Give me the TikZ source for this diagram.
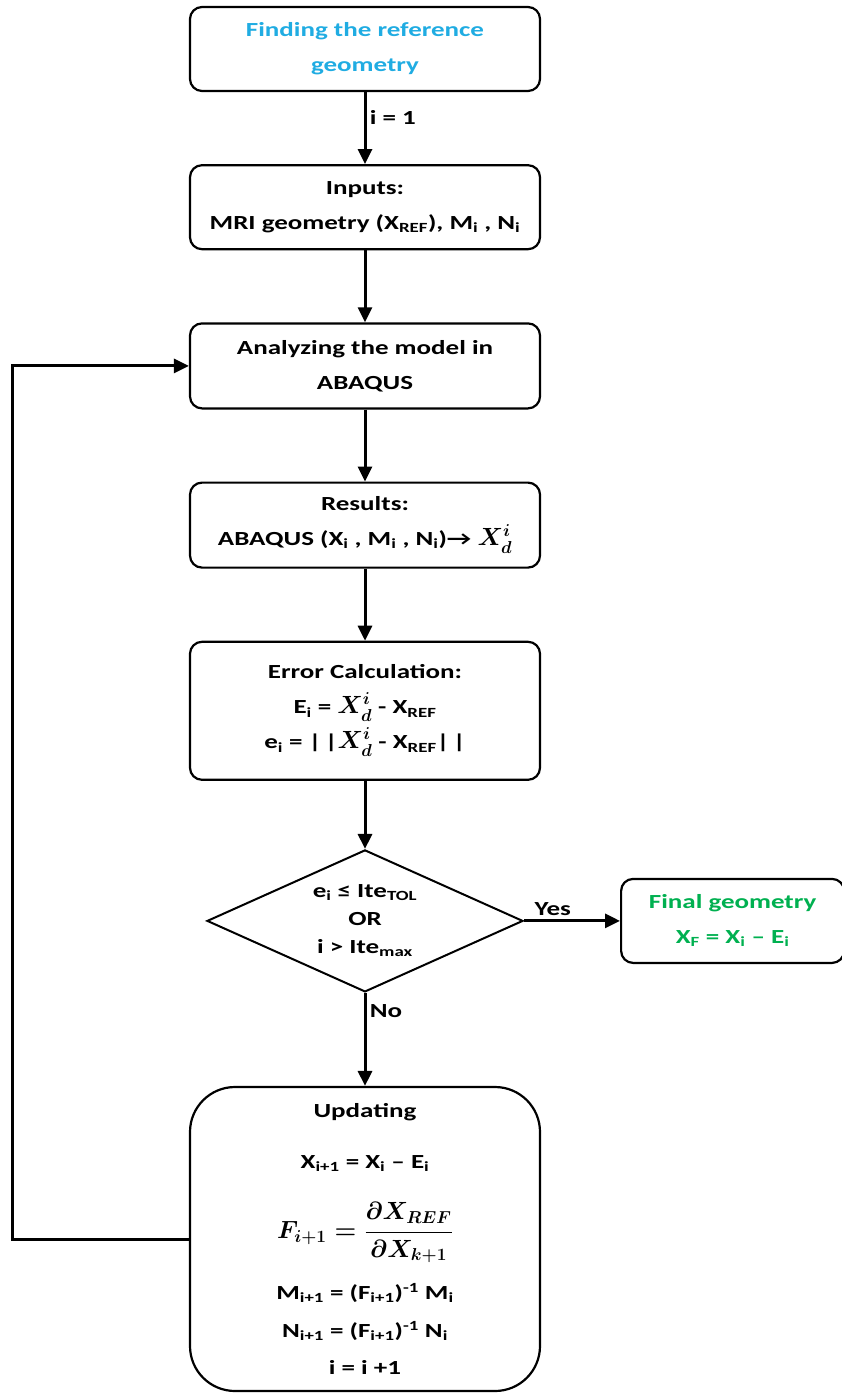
\documentclass[tikz,border=0pt]{standalone}
\usepackage{fontspec}
\setmainfont{Carlito}[FakeStretch=1.35]
\usepackage{amsmath}
\usetikzlibrary{shapes,arrows.meta,positioning}
\definecolor{titleblue}{RGB}{32,172,226}
\definecolor{okgreen}{RGB}{0,176,80}
\newcommand{\Xdi}{{\fontsize{25}{35}\selectfont\boldmath$X^{i}_{d}$}}
\begin{document}
\begin{tikzpicture}[x=1pt,y=1pt,node distance=72pt,
every node/.style={font=\fontsize{20}{35}\selectfont\bfseries},
box/.style={draw, rounded corners=12pt, line width=2.2pt, align=center, minimum width=350pt, minimum height=84pt, inner sep=0pt},
decision/.style={draw, diamond, aspect=2.2, line width=2pt, align=center, minimum width=316pt, minimum height=142pt, inner sep=0pt, font=\fontsize{20}{28}\selectfont\bfseries},
link/.style={line width=3pt, -{Triangle[length=15pt,width=14pt]}}]
\useasboundingbox (0,0) rectangle (842,-1394);
\node[box, text=titleblue] (find) at (365,-49) {Finding the reference\\geometry};
\node[box, below=of find] (inputs) {Inputs:\\MRI geometry (X\textsubscript{REF}), M\textsubscript{i} , N\textsubscript{i}};
\node[box, minimum height=85pt, below=of inputs] (analyze) {Analyzing the model in\\ABAQUS};
\node[box, minimum height=85pt, below=of analyze] (results) {Results:\\ABAQUS (X\textsubscript{i} , M\textsubscript{i} , N\textsubscript{i})→ \Xdi};
\node[box, minimum height=138pt, below=of results] (error) {Error Calculation:\\E\textsubscript{i} = \Xdi{} - X\textsubscript{REF}\\e\textsubscript{i} = |\,|\Xdi{} - X\textsubscript{REF}|\,|};
\node[decision, below=68pt of error] (check) {e\textsubscript{i} ≤ Ite\textsubscript{TOL}\\OR\\i > Ite\textsubscript{max}};
\node[box, minimum width=223pt, text=okgreen, right=96pt of check] (final) {Final geometry\\X\textsubscript{F} = X\textsubscript{i} -- E\textsubscript{i}};
\node[box, rounded corners=45pt, minimum height=304pt, below=93pt of check] (update) {Updating\\[16pt]
X\textsubscript{i+1} = X\textsubscript{i} -- E\textsubscript{i}\\[30pt]
{\fontsize{24}{35}\selectfont\boldmath$F_{i+1}=\dfrac{\partial X_{REF}}{\partial X_{k+1}}$}\\[19pt]
M\textsubscript{i+1} = (F\textsubscript{i+1})\textsuperscript{-1} M\textsubscript{i}\\[3pt]
N\textsubscript{i+1} = (F\textsubscript{i+1})\textsuperscript{-1} N\textsubscript{i}\\[2pt]
i = i +1};
\draw[link] (find) -- node[right, pos=0.35] {i = 1} (inputs);
\draw[link] (inputs) -- (analyze);
\draw[link] (analyze) -- (results);
\draw[link] (results) -- (error);
\draw[link] (error) -- (check);
\draw[link] (check) -- node[above, pos=0.3] {Yes} (final);
\draw[link] (check) -- node[right, pos=0.2] {No} (update);
\draw[link] (update.west) -- ++(-176,0) |- (analyze.west);
\end{tikzpicture}
\end{document}
